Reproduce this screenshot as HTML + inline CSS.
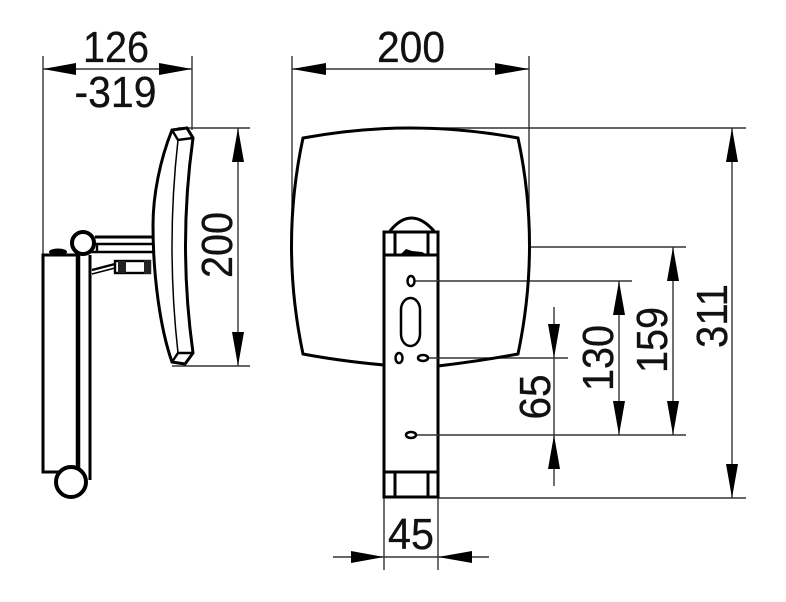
<!DOCTYPE html>
<html><head><meta charset="utf-8"><style>
html,body{margin:0;padding:0;background:#fff}
svg{display:block}
text{font-family:"Liberation Sans",sans-serif;font-size:44px;fill:#111;stroke:#111;stroke-width:.3}
.d{stroke:#333;stroke-width:1.4;fill:none}
.o{stroke:#000;stroke-width:2.4;fill:none}
.t{stroke:#000;stroke-width:3;fill:none}
.a{fill:#000;stroke:none}
</style></head><body>
<svg width="786" height="602" viewBox="0 0 786 602" xmlns="http://www.w3.org/2000/svg">
<rect width="786" height="602" fill="#fff"/>
<!-- dimension lines -->
<path class="d" d="M43 56V255M192 56V130M43 69H192"/>
<path class="d" d="M292 56V245M529 56V245M292 69H529"/>
<path class="d" d="M178 128H250M172 366H250M238 128V366"/>
<path class="d" d="M410 128H746M530 247H686M411 281H632M422 358H568M411 435H686M438 498H746"/>
<path class="d" d="M554 307V486M619 281V435M673 247V435M732 128V498"/>
<path class="d" d="M384 497V570M438 497V570M333 557H489"/>
<!-- arrowheads -->
<path class="a" d="M43 69L76 63V75ZM192 69L159 63V75ZM292 69L326 63V75ZM529 69L495 63V75Z"/>
<path class="a" d="M238 128L232 162H244ZM238 366L232 332H244Z"/>
<path class="a" d="M732 128L726 162H738ZM732 498L726 464H738Z"/>
<path class="a" d="M673 247L667 281H679ZM673 435L667 401H679Z"/>
<path class="a" d="M619 281L613 315H625ZM619 435L613 401H625Z"/>
<path class="a" d="M554 358L548 324H560ZM554 435L548 469H560Z"/>
<path class="a" d="M384 557L351 551V563ZM438 557L472 551V563Z"/>
<!-- side view -->
<path class="t" d="M172 130L187 128L193 138Q178 245 193 353L185 364L172 362C160 328 153 275 153 225C153 195 160 160 172 130Z" fill="#fff"/>
<path d="M172 130L178 140L193 138M172 362L178 353L193 353" class="o"/>
<path d="M178 140Q166 246 178 353" stroke="#000" stroke-width="1.5" fill="none"/>
<path class="t" d="M95 237H153"/>
<path class="o" d="M95 244H153M97 244V252M90 252H153"/>
<path class="o" d="M92 270L115 264"/>
<path d="M92 274L115 268" stroke="#000" stroke-width="1.5" fill="none"/>
<rect x="115" y="261" width="35" height="12" fill="#fff" stroke="#000" stroke-width="2.4"/>
<rect x="118" y="261" width="8" height="12" fill="#222"/>
<rect x="144" y="260" width="7" height="14" fill="#222"/>
<ellipse cx="58" cy="252" rx="9" ry="3.500" fill="#000"/>
<path class="t" d="M78 255H43V472H60"/>
<path d="M78 255V470" stroke="#000" stroke-width="4.500" fill="none"/>
<path class="t" d="M90 255V480"/>
<circle cx="83" cy="243" r="11" fill="#fff" stroke="#000" stroke-width="4"/>
<circle cx="71" cy="482" r="15" fill="#fff" stroke="#000" stroke-width="4"/>
<!-- front mirror -->
<path class="t" d="M384 365Q340 361 303 354Q280 245 303 138Q410 118 518 138Q541 245 518 354Q480 361 438 366"/>
<!-- plate -->
<rect x="384" y="232" width="54" height="265" fill="#fff" stroke="#000" stroke-width="3"/>
<path class="t" d="M390 231Q411 205 434 231"/>
<path class="t" d="M384 255H438M395 232V255M428 232V255M384 472H438M395 472V497M428 472V497"/>
<path class="a" d="M398 255L402 253L406 249L412 251L422 252L428 255Z"/>
<path class="d" d="M415 281H440M428 358H440M416 435H440"/>
<ellipse cx="411" cy="281" rx="3.500" ry="5" fill="#fff" stroke="#000" stroke-width="2.500"/>
<rect x="401" y="298" width="19" height="48" rx="9.500" ry="12" fill="#fff" stroke="#000" stroke-width="2.500"/>
<ellipse cx="399" cy="358" rx="3.500" ry="5" fill="#fff" stroke="#000" stroke-width="2.500"/>
<ellipse cx="423" cy="358" rx="5" ry="3" fill="#fff" stroke="#000" stroke-width="2.500"/>
<ellipse cx="411" cy="435" rx="5" ry="3" fill="#fff" stroke="#000" stroke-width="2.500"/>
<!-- labels -->
<text x="116" y="62" text-anchor="middle" textLength="66" lengthAdjust="spacingAndGlyphs">126</text>
<text x="115.500" y="107" text-anchor="middle" textLength="82" lengthAdjust="spacingAndGlyphs">-319</text>
<text x="411" y="62" text-anchor="middle" textLength="68" lengthAdjust="spacingAndGlyphs">200</text>
<text x="411" y="549" text-anchor="middle" textLength="46" lengthAdjust="spacingAndGlyphs">45</text>
<text transform="translate(232 245) rotate(-90)" text-anchor="middle" textLength="66" lengthAdjust="spacingAndGlyphs">200</text>
<text transform="translate(550 397) rotate(-90)" text-anchor="middle" textLength="45" lengthAdjust="spacingAndGlyphs">65</text>
<text transform="translate(613 358) rotate(-90)" text-anchor="middle" textLength="66" lengthAdjust="spacingAndGlyphs">130</text>
<text transform="translate(667 340) rotate(-90)" text-anchor="middle" textLength="66" lengthAdjust="spacingAndGlyphs">159</text>
<text transform="translate(727 316) rotate(-90)" text-anchor="middle" textLength="64" lengthAdjust="spacingAndGlyphs">311</text>
</svg>
</body></html>
